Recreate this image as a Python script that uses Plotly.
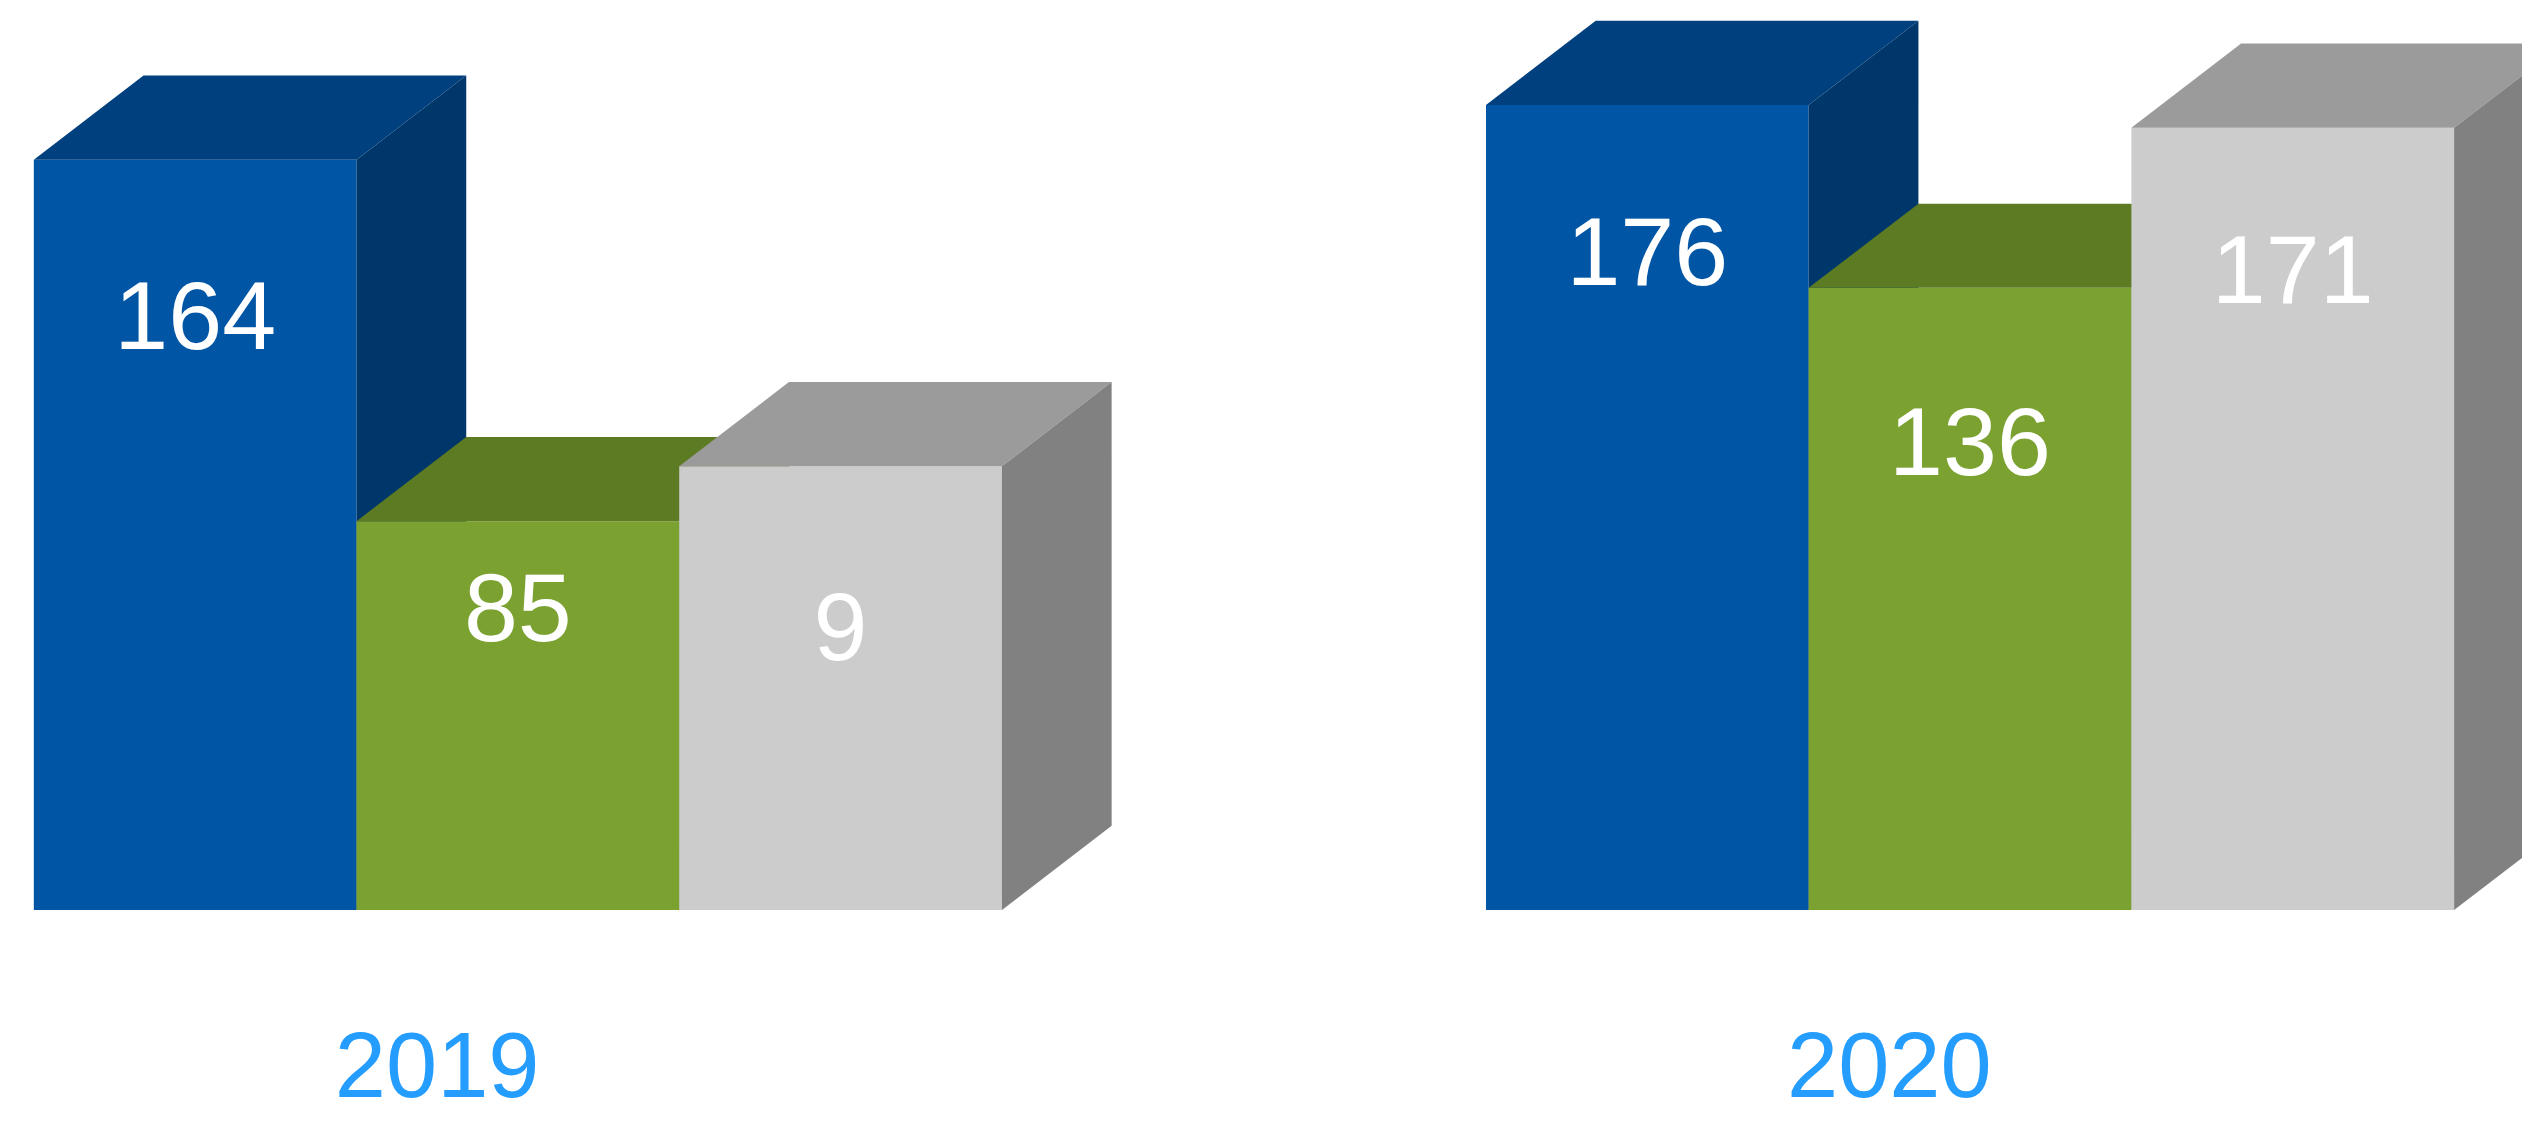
import plotly.graph_objects as go

# ---------------- data ----------------
years = ["2019", "2020"]
blue_values = [164, 176]
green_values = [85, 136]
gray_values = [97, 171]
blue_labels = ["164", "176"]
green_labels = ["85", "136"]
gray_labels = ["9", "171"]

series_values = [blue_values, green_values, gray_values]
series_labels = [blue_labels, green_labels, gray_labels]

# ---------------- style ----------------
W, H = 2530, 1123
BAR_W = 1.0           # bar width in x units
GROUP_STEP = 4.5      # distance between year groups
DX = 0.34             # 3D depth, x units
DY = 18.4             # 3D depth, y units
YEAR_SHIFT = -0.25    # year label offset from group centre
series_colors = [
    ("#0055A5", "#00407F", "#00376A"),   # blue: front, top, side
    ("#7BA230", "#5C7B22", "#5C7B22"),   # green
    ("#CCCCCC", "#9B9B9B", "#818181"),   # gray
]
label_drop = [[36, 34], [21, 35.5], [37, 33]]
FONT = "Arial, Liberation Sans, Helvetica, sans-serif"

fig = go.Figure()

for gi, year in enumerate(years):
    gc = gi * GROUP_STEP
    for si, vals in enumerate(series_values):
        v = vals[gi]
        front, top, side = series_colors[si]
        xc = gc + (si - 1) * BAR_W
        x0, x1 = xc - BAR_W / 2, xc + BAR_W / 2
        # front face
        fig.add_trace(go.Scatter(
            x=[x0, x1, x1, x0, x0], y=[0, 0, v, v, 0],
            fill="toself", fillcolor=front, mode="none",
            hoverinfo="skip", showlegend=False))
        # top face
        fig.add_trace(go.Scatter(
            x=[x0, x1, x1 + DX, x0 + DX, x0], y=[v, v, v + DY, v + DY, v],
            fill="toself", fillcolor=top, mode="none",
            hoverinfo="skip", showlegend=False))
        # side face
        fig.add_trace(go.Scatter(
            x=[x1, x1 + DX, x1 + DX, x1, x1], y=[0, DY, v + DY, v, 0],
            fill="toself", fillcolor=side, mode="none",
            hoverinfo="skip", showlegend=False))

# value labels
for si, vals in enumerate(series_values):
    xs, ys, ts = [], [], []
    for gi in range(len(years)):
        gc = gi * GROUP_STEP
        xs.append(gc + (si - 1) * BAR_W)
        ys.append(vals[gi] - label_drop[si][gi])
        ts.append(series_labels[si][gi])
    fig.add_trace(go.Scatter(
        x=xs, y=ys, text=ts, mode="text",
        textfont=dict(family=FONT, size=97, color="white"),
        textposition="middle center", hoverinfo="skip", showlegend=False))

px_per_unit = (200 * W / 1568)
left_px = 316 * W / 1568
x_lo = -left_px / px_per_unit
x_hi = (W - left_px) / px_per_unit
baseline_px = 559 * W / 1568
y_px_per_unit = 2.835 * W / 1568
y_hi = baseline_px / y_px_per_unit

fig.update_layout(
    width=W, height=H,
    margin=dict(l=0, r=0, t=0, b=H - baseline_px),
    paper_bgcolor="white", plot_bgcolor="white",
    showlegend=False,
    xaxis=dict(range=[x_lo, x_hi], showgrid=False, zeroline=False, showline=False,
               tickvals=[gi * GROUP_STEP + YEAR_SHIFT for gi in range(len(years))],
               ticktext=years, ticks="", ticklabelstandoff=94,
               tickfont=dict(family=FONT, size=92, color="#249DFE"), fixedrange=True),
    yaxis=dict(range=[0, y_hi], visible=False, fixedrange=True),
)

fig.write_html("out.html")
